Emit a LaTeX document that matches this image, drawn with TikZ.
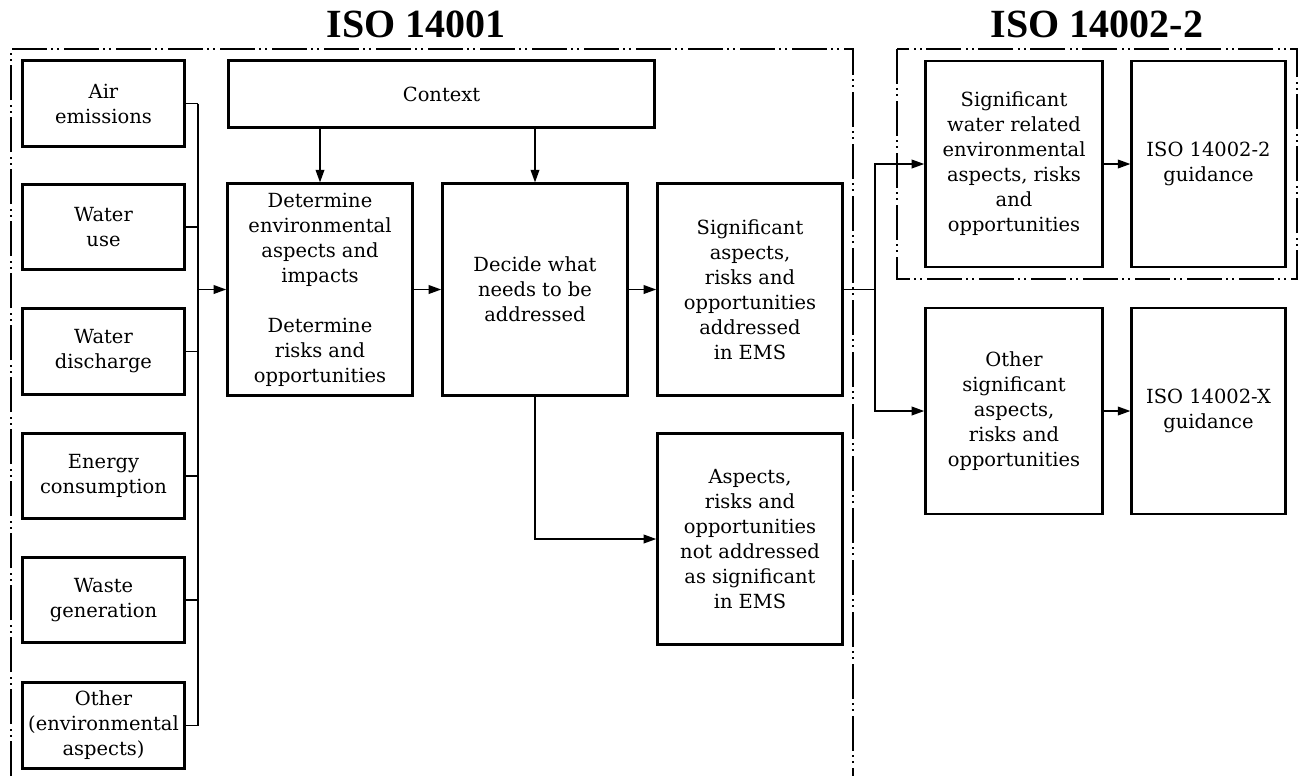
\documentclass[tikz,border=0pt]{standalone}
\usepackage{fontspec}
\setmainfont{DejaVu Serif}
\newfontfamily\titlefont{Liberation Serif}
\usetikzlibrary{
    arrows.meta,
    positioning
}
\tikzset{
    % Lines
    frame line/.style={line width=1pt,dash pattern=on 26pt off 3.5pt on 1.5pt off 3pt on 1.5pt off 3.5pt},
    con/.style={line width=1.25pt},
    %
    % Boxes
    box/.style={draw,line width=2.1pt,align=center,inner sep=2pt,font=\fontsize{14.6}{18.75}\selectfont},
    source box/.style={box,minimum width=121pt,minimum height=64pt},
    stage box/.style={box,minimum width=138.5pt,minimum height=158.5pt},
    water box/.style={box,minimum width=132.5pt,minimum height=154.5pt},
    guide box/.style={box,minimum width=115pt,minimum height=154.5pt},
    title/.style={font=\titlefont\bfseries\fontsize{30}{36}\selectfont},
    %
    % Arrows
    arrow tip/.tip={Triangle[length=9.5pt,width=6.5pt]},
    arr/.style={con,->,>={arrow tip}}
}

\begin{document}
\begin{tikzpicture}[x=0.75pt,y=-0.75pt]
    \useasboundingbox (0,0) rectangle (1301,776);
    \node[title] (t1) at (416,24) {ISO 14001};
    \node[title] (t2) at (1097,24) {ISO 14002-2};
    \draw[frame line] (11,776) -- (11,49) -- (853,49) -- (853,776);
    \draw[frame line] (897,49) rectangle (1297,279);
    % inputs
    \node[source box] (air) at (103.5,103.5) {Air\\emissions};
    \node[source box] (wateruse) at (103.5,227) {Water\\use};
    \node[source box] (discharge) at (103.5,351.5) {Water\\discharge};
    \node[source box] (energy) at (103.5,476) {Energy\\consumption};
    \node[source box] (waste) at (103.5,600) {Waste\\generation};
    \node[source box] (other) at (103.5,725.5) {Other\\(environmental\\aspects)};
    % ISO 14001
    \node[box,minimum width=319pt,minimum height=50pt] (context) at (441.5,94) {Context};
    \node[stage box] (determine) at (320,289.5) {Determine\\environmental\\aspects and\\impacts\\[18.75pt]Determine\\risks and\\opportunities};
    \node[stage box] (decide) at (535,289.5) {Decide what\\needs to be\\addressed};
    \node[stage box] (significant) at (750,289.5) {Significant\\aspects,\\risks and\\opportunities\\addressed\\in EMS};
    \node[stage box] (notaddressed) at (750,539) {Aspects,\\risks and\\opportunities\\not addressed\\as significant\\in EMS};
    % ISO 14002
    \node[water box] (water) at (1014,164) {Significant\\water related\\environmental\\aspects, risks\\and\\opportunities};
    \node[guide box] (guide2) at (1208.5,164) {ISO 14002-2\\guidance};
    \node[water box] (othersig) at (1014,411) {Other\\significant\\aspects,\\risks and\\opportunities};
    \node[guide box] (guideX) at (1208.5,411) {ISO 14002-X\\guidance};
    % connectors
    \coordinate (bus) at (198,289.5);
    \coordinate (split) at (875,289.5);
    \foreach \n in {air,wateruse,discharge,energy,waste,other}
        \draw[con] (\n.east) -- (\n.east -| bus);
    \draw[con] (air.east -| bus) -- (other.east -| bus);
    \draw[arr] (bus) -- (determine);
    \draw[arr] (context.south -| determine.north) -- (determine.north);
    \draw[arr] (context.south -| decide.north) -- (decide.north);
    \draw[arr] (determine) -- (decide);
    \draw[arr] (decide) -- (significant);
    \draw[arr] (decide.south) |- (notaddressed);
    \draw[con] (significant) -- (split);
    \draw[arr] (split) |- (water);
    \draw[arr] (split) |- (othersig);
    \draw[arr] (water) -- (guide2);
    \draw[arr] (othersig) -- (guideX);
\end{tikzpicture}
\end{document}
